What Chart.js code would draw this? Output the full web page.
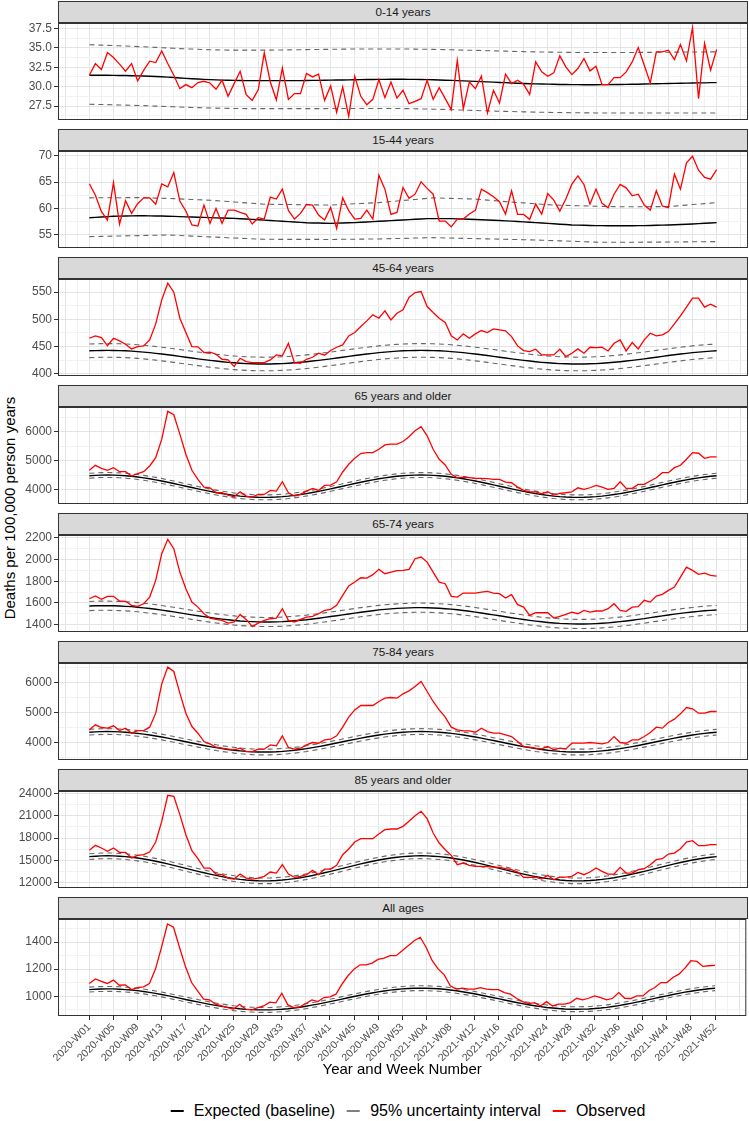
<!DOCTYPE html>
<html>
<head>
<meta charset="utf-8">
<title>Weekly deaths per 100,000 person years</title>
<script src="https://cdn.jsdelivr.net/npm/chart.js@4.4.1/dist/chart.umd.min.js"></script>
<style>
  html, body { margin: 0; padding: 0; background: #fff; }
  body { position: relative; width: 749px; height: 1121px; overflow: hidden; font-family: 'Liberation Sans', Arial, sans-serif; }
  canvas { position: absolute; left: 0; }
  .strip { position: absolute; left: 58px; width: 690px; height: 22px; box-sizing: border-box; background: #d9d9d9; border: 1px solid #333; color: #1a1a1a; font-size: 11.7px; line-height: 20px; text-align: center; }
  #ytitle { position: absolute; left: 9px; top: 508px; transform: translate(-50%, -50%) rotate(-90deg); white-space: nowrap; font-size: 15px; color: #000; }
  #legend { position: absolute; left: 408px; top: 1101px; transform: translateX(-50%); display: flex; align-items: center; white-space: nowrap; font-size: 16px; line-height: 20px; color: #000; }
  #legend .item { display: flex; align-items: center; margin-right: 12px; }
  #legend .item:last-child { margin-right: 0; }
  #legend .key { display: inline-block; width: 13px; height: 2px; margin-right: 10px; }
</style>
</head>
<body>
<div id="ytitle">Deaths per 100,000 person years</div>
<div id="legend"></div>
<script>
const weeks = ['2020-W01','2020-W02','2020-W03','2020-W04','2020-W05','2020-W06','2020-W07','2020-W08','2020-W09','2020-W10',
  '2020-W11','2020-W12','2020-W13','2020-W14','2020-W15','2020-W16','2020-W17','2020-W18','2020-W19','2020-W20',
  '2020-W21','2020-W22','2020-W23','2020-W24','2020-W25','2020-W26','2020-W27','2020-W28','2020-W29','2020-W30',
  '2020-W31','2020-W32','2020-W33','2020-W34','2020-W35','2020-W36','2020-W37','2020-W38','2020-W39','2020-W40',
  '2020-W41','2020-W42','2020-W43','2020-W44','2020-W45','2020-W46','2020-W47','2020-W48','2020-W49','2020-W50',
  '2020-W51','2020-W52','2020-W53','2021-W01','2021-W02','2021-W03','2021-W04','2021-W05','2021-W06','2021-W07',
  '2021-W08','2021-W09','2021-W10','2021-W11','2021-W12','2021-W13','2021-W14','2021-W15','2021-W16','2021-W17',
  '2021-W18','2021-W19','2021-W20','2021-W21','2021-W22','2021-W23','2021-W24','2021-W25','2021-W26','2021-W27',
  '2021-W28','2021-W29','2021-W30','2021-W31','2021-W32','2021-W33','2021-W34','2021-W35','2021-W36','2021-W37',
  '2021-W38','2021-W39','2021-W40','2021-W41','2021-W42','2021-W43','2021-W44','2021-W45','2021-W46','2021-W47',
  '2021-W48','2021-W49','2021-W50','2021-W51','2021-W52'];

// 0-14 years
const obs014 = [31.47,32.97,32.2,34.4,33.75,32.9,32.0,32.97,30.73,32.1,33.28,33.1,34.6,32.97,31.47,29.74,30.26,29.87,30.52,30.69,
  30.47,29.66,30.82,28.75,30.39,31.98,28.97,28.23,29.6,34.35,30.6,28.3,32.4,28.36,29.1,29.1,31.7,31.25,31.6,28.23,
  30.09,26.68,29.96,26.16,31.34,28.75,27.67,28.36,30.9,28.58,30.6,28.53,29.53,27.8,28.1,28.45,30.82,28.36,29.87,28.45,
  27.03,33.4,27.16,30.6,29.74,31.34,26.6,29.53,27.9,31.6,30.39,30.82,30.3,29.0,33.19,31.9,31.34,31.77,33.97,32.54,
  31.55,32.33,33.62,32.03,32.63,30.26,30.26,31.16,31.16,31.9,33.19,35.04,32.76,30.47,34.48,34.48,34.7,33.49,35.43,33.32,
  37.59,28.45,35.56,32.11,34.78];
const exp014 = [31.47,31.47,31.46,31.46,31.45,31.44,31.43,31.41,31.39,31.37,31.34,31.31,31.27,31.22,31.17,31.12,31.07,31.02,30.98,30.94,
  30.9,30.87,30.84,30.82,30.8,30.79,30.78,30.78,30.77,30.77,30.77,30.77,30.77,30.77,30.78,30.78,30.79,30.8,30.81,30.83,
  30.84,30.85,30.86,30.87,30.89,30.9,30.91,30.92,30.93,30.94,30.95,30.95,30.95,30.94,30.93,30.92,30.9,30.88,30.86,30.83,
  30.8,30.77,30.74,30.71,30.68,30.65,30.61,30.58,30.54,30.51,30.47,30.44,30.41,30.38,30.36,30.34,30.32,30.3,30.28,30.27,
  30.26,30.26,30.25,30.25,30.25,30.26,30.26,30.27,30.28,30.29,30.3,30.31,30.33,30.35,30.37,30.39,30.41,30.42,30.44,30.45,
  30.47,30.48,30.49,30.51,30.52];
const hi014 = [35.4,35.38,35.35,35.32,35.29,35.26,35.23,35.2,35.16,35.13,35.1,35.06,35.02,34.98,34.94,34.9,34.87,34.84,34.81,34.78,
  34.76,34.74,34.72,34.71,34.7,34.7,34.7,34.7,34.7,34.71,34.71,34.72,34.73,34.74,34.75,34.76,34.77,34.78,34.79,34.8,
  34.81,34.82,34.83,34.84,34.84,34.85,34.85,34.85,34.85,34.85,34.85,34.85,34.85,34.84,34.83,34.82,34.81,34.8,34.78,34.77,
  34.75,34.73,34.71,34.69,34.67,34.65,34.63,34.61,34.59,34.57,34.55,34.53,34.51,34.49,34.48,34.46,34.45,34.44,34.43,34.42,
  34.41,34.4,34.4,34.39,34.39,34.39,34.39,34.39,34.39,34.4,34.4,34.41,34.41,34.42,34.43,34.43,34.44,34.45,34.45,34.46,
  34.46,34.47,34.47,34.48,34.48];
const lo014 = [27.72,27.71,27.7,27.68,27.66,27.64,27.62,27.6,27.57,27.55,27.52,27.49,27.46,27.43,27.4,27.37,27.34,27.31,27.29,27.27,
  27.25,27.23,27.21,27.2,27.19,27.18,27.17,27.16,27.16,27.16,27.16,27.16,27.16,27.16,27.16,27.16,27.17,27.17,27.17,27.17,
  27.18,27.18,27.18,27.18,27.18,27.19,27.19,27.19,27.19,27.19,27.19,27.18,27.17,27.16,27.15,27.13,27.11,27.09,27.07,27.05,
  27.03,27.0,26.98,26.95,26.93,26.9,26.88,26.85,26.83,26.81,26.79,26.77,26.75,26.73,26.71,26.7,26.68,26.67,26.66,26.65,
  26.64,26.63,26.62,26.62,26.61,26.61,26.61,26.6,26.6,26.6,26.6,26.6,26.6,26.6,26.6,26.6,26.6,26.6,26.6,26.6,
  26.6,26.6,26.6,26.6,26.6];

// 15-44 years
const obs1544 = [64.67,62.5,59.37,57.8,64.9,57.0,61.45,59.05,60.9,62.0,62.0,60.8,64.67,64.1,66.8,61.4,59.5,56.85,56.65,60.63,
  57.16,60.0,57.16,59.68,59.68,59.24,58.86,57.03,58.23,57.98,62.14,61.77,63.66,59.62,57.98,59.05,60.76,60.63,58.74,57.8,
  60.19,56.2,62.0,59.56,57.98,58.1,59.68,57.98,66.3,63.66,58.86,59.24,63.97,61.9,62.7,65.05,63.8,62.7,57.6,57.6,
  56.5,57.98,57.98,58.93,59.62,63.66,63.0,62.2,61.26,58.93,63.34,58.86,58.86,57.92,60.82,58.93,62.84,61.58,59.5,61.77,
  64.6,66.18,64.54,60.82,63.66,60.95,60.13,62.7,64.54,63.9,62.4,62.7,60.63,59.68,63.34,60.44,60.13,66.5,63.66,68.64,
  69.9,67.26,65.87,65.55,67.38];
const exp1544 = [58.23,58.3,58.37,58.43,58.5,58.53,58.55,58.58,58.6,58.59,58.58,58.56,58.55,58.51,58.48,58.44,58.4,58.36,58.33,58.29,
  58.25,58.21,58.18,58.14,58.1,58.04,57.98,57.91,57.85,57.78,57.7,57.63,57.55,57.48,57.41,57.34,57.27,57.24,57.22,57.19,
  57.16,57.2,57.23,57.27,57.3,57.36,57.43,57.49,57.55,57.61,57.68,57.74,57.8,57.86,57.93,57.99,58.05,58.05,58.05,58.05,
  58.05,58.01,57.98,57.94,57.9,57.85,57.8,57.75,57.7,57.64,57.58,57.51,57.45,57.38,57.3,57.23,57.15,57.08,57.0,56.93,
  56.85,56.82,56.79,56.75,56.72,56.72,56.71,56.71,56.7,56.71,56.71,56.72,56.72,56.75,56.79,56.82,56.85,56.9,56.95,57.0,
  57.05,57.11,57.18,57.24,57.3];
const hi1544 = [62.0,62.01,62.01,62.02,62.03,62.03,62.04,62.04,62.05,62.02,61.99,61.96,61.93,61.9,61.85,61.8,61.75,61.7,61.65,61.6,
  61.55,61.47,61.38,61.3,61.22,61.13,61.05,60.97,60.88,60.8,60.78,60.77,60.75,60.74,60.72,60.7,60.69,60.67,60.66,60.64,
  60.63,60.69,60.75,60.81,60.87,60.92,60.98,61.04,61.1,61.2,61.3,61.4,61.5,61.6,61.7,61.8,61.9,62.0,61.97,61.93,
  61.9,61.87,61.83,61.8,61.77,61.67,61.58,61.48,61.39,61.29,61.2,61.12,61.04,60.96,60.87,60.79,60.71,60.63,60.6,60.57,
  60.54,60.51,60.48,60.45,60.42,60.39,60.36,60.33,60.3,60.31,60.31,60.32,60.32,60.33,60.33,60.34,60.35,60.44,60.54,60.63,
  60.73,60.82,60.91,61.01,61.1];
const lo1544 = [54.64,54.66,54.69,54.71,54.74,54.76,54.78,54.81,54.83,54.86,54.88,54.9,54.93,54.95,54.9,54.85,54.8,54.74,54.69,54.64,
  54.59,54.54,54.49,54.44,54.39,54.33,54.28,54.23,54.18,54.13,54.13,54.13,54.12,54.12,54.12,54.12,54.11,54.11,54.11,54.1,
  54.1,54.11,54.13,54.14,54.15,54.16,54.18,54.19,54.2,54.23,54.26,54.28,54.31,54.34,54.37,54.39,54.42,54.45,54.42,54.39,
  54.37,54.34,54.31,54.29,54.26,54.24,54.21,54.18,54.16,54.13,54.1,54.08,54.05,54.03,54.0,53.96,53.92,53.88,53.84,53.8,
  53.76,53.72,53.68,53.64,53.6,53.56,53.56,53.57,53.57,53.58,53.58,53.58,53.59,53.59,53.6,53.6,53.61,53.62,53.63,53.64,
  53.66,53.67,53.68,53.69,53.7];

// 45-64 years
const obs4564 = [465.3,469.6,466.5,451.8,465.3,460.4,454.3,445.7,450,451.2,462.2,491.6,535.7,566.3,549.8,502,475.7,450,449.4,439,
  439.6,435.9,426.7,425.5,413.3,428.6,422.4,420.6,420.6,420.6,425.5,434.7,432.9,456.1,420.6,419.4,426.7,430.4,437.8,434.1,
  442.7,448.8,453.1,469.6,475.7,486.7,497.2,508.2,502,515.5,499,511.2,517.4,540,549.2,551,523.5,512.5,502,494.1,
  469.6,462.2,473.3,465.3,473.3,479.4,475.7,482.5,480.6,478.8,468.4,451.2,442.7,440.8,445.1,434.7,434.7,434.7,445.1,431.6,
  437.8,445.7,437.8,448.8,448.2,448.8,442,456.1,462.2,442,457.3,445.7,462.2,474.5,469.6,471.4,477.6,491.6,506.3,522.3,
  538.8,538.8,522.3,527.8,522.3];
const exp4564 = [442.2,442.6,442.9,443.0,442.9,442.6,442.2,441.6,440.8,439.9,438.8,437.6,436.3,434.9,433.5,432.0,430.5,429.0,427.5,426.1,
  424.7,423.4,422.2,421.1,420.2,419.4,418.8,418.4,418.1,418.0,418.1,418.4,418.8,419.4,420.2,421.1,422.2,423.4,424.7,426.1,
  427.5,429.0,430.5,432.0,433.5,434.9,436.3,437.6,438.8,439.9,440.8,441.6,442.2,442.6,442.9,443.0,442.9,442.6,442.2,441.6,
  440.8,439.9,438.8,437.6,436.3,434.9,433.5,432.0,430.5,429.0,427.5,426.1,424.7,423.4,422.2,421.1,420.2,419.4,418.8,418.4,
  418.1,418.0,418.1,418.4,418.8,419.4,420.2,421.1,422.2,423.4,424.7,426.1,427.5,429.0,430.5,432.0,433.5,434.9,436.3,437.6,
  438.8,439.9,440.8,441.6,442.2];
const hi4564 = [454.7,455.1,455.4,455.5,455.4,455.1,454.7,454.1,453.3,452.4,451.3,450.1,448.8,447.4,446.0,444.5,443.0,441.5,440.0,438.6,
  437.2,435.9,434.7,433.6,432.7,431.9,431.3,430.9,430.6,430.5,430.6,430.9,431.3,431.9,432.7,433.6,434.7,435.9,437.2,438.6,
  440.0,441.5,443.0,444.5,446.0,447.4,448.8,450.1,451.3,452.4,453.3,454.1,454.7,455.1,455.4,455.5,455.4,455.1,454.7,454.1,
  453.3,452.4,451.3,450.1,448.8,447.4,446.0,444.5,443.0,441.5,440.0,438.6,437.2,435.9,434.7,433.6,432.7,431.9,431.3,430.9,
  430.6,430.5,430.6,430.9,431.3,431.9,432.7,433.6,434.7,435.9,437.2,438.6,440.0,441.5,443.0,444.5,446.0,447.4,448.8,450.1,
  451.3,452.4,453.3,454.1,454.7];
const lo4564 = [429.7,430.1,430.4,430.5,430.4,430.1,429.7,429.1,428.3,427.4,426.3,425.1,423.8,422.4,421.0,419.5,418.0,416.5,415.0,413.6,
  412.2,410.9,409.7,408.6,407.7,406.9,406.3,405.9,405.6,405.5,405.6,405.9,406.3,406.9,407.7,408.6,409.7,410.9,412.2,413.6,
  415.0,416.5,418.0,419.5,421.0,422.4,423.8,425.1,426.3,427.4,428.3,429.1,429.7,430.1,430.4,430.5,430.4,430.1,429.7,429.1,
  428.3,427.4,426.3,425.1,423.8,422.4,421.0,419.5,418.0,416.5,415.0,413.6,412.2,410.9,409.7,408.6,407.7,406.9,406.3,405.9,
  405.6,405.5,405.6,405.9,406.3,406.9,407.7,408.6,409.7,410.9,412.2,413.6,415.0,416.5,418.0,419.5,421.0,422.4,423.8,425.1,
  426.3,427.4,428.3,429.1,429.7];

// 65 years and older
const obs65p = [4663,4837,4733,4663,4756,4616,4616,4465,4546,4616,4814,5105,5744,6710,6593,5919,5221,4663,4349,4081,
  4058,3884,3884,3802,3744,3918,3767,3732,3826,3826,3965,3942,4267,3884,3767,3826,3942,4035,3965,4139,
  4151,4267,4605,4872,5081,5244,5279,5279,5395,5547,5570,5570,5663,5826,6035,6175,5861,5395,5047,4849,
  4523,4407,4430,4407,4384,4384,4372,4349,4349,4256,4232,4081,3965,3918,3918,3849,3918,3802,3860,3884,
  3918,4058,4000,4058,4139,4081,4000,4035,4267,4035,4035,4174,4174,4291,4407,4581,4581,4756,4837,5047,
  5279,5256,5081,5128,5128];
const exp65p = [4475,4489,4497,4500,4497,4489,4475,4456,4431,4402,4369,4332,4292,4250,4205,4159,4112,4065,4019,3974,
  3932,3892,3855,3822,3793,3768,3749,3735,3727,3724,3727,3735,3749,3768,3793,3822,3855,3892,3932,3974,
  4019,4065,4112,4159,4205,4250,4292,4332,4369,4402,4431,4456,4475,4489,4497,4500,4497,4489,4475,4456,
  4431,4402,4369,4332,4292,4250,4205,4159,4112,4065,4019,3974,3932,3892,3855,3822,3793,3768,3749,3735,
  3727,3724,3727,3735,3749,3768,3793,3822,3855,3892,3932,3974,4019,4065,4112,4159,4205,4250,4292,4332,
  4369,4402,4431,4456,4475];
const hi65p = [4560,4574,4582,4585,4582,4574,4560,4541,4516,4487,4454,4417,4377,4335,4290,4244,4197,4150,4104,4059,
  4017,3977,3940,3907,3878,3853,3834,3820,3812,3809,3812,3820,3834,3853,3878,3907,3940,3977,4017,4059,
  4104,4150,4197,4244,4290,4335,4377,4417,4454,4487,4516,4541,4560,4574,4582,4585,4582,4574,4560,4541,
  4516,4487,4454,4417,4377,4335,4290,4244,4197,4150,4104,4059,4017,3977,3940,3907,3878,3853,3834,3820,
  3812,3809,3812,3820,3834,3853,3878,3907,3940,3977,4017,4059,4104,4150,4197,4244,4290,4335,4377,4417,
  4454,4487,4516,4541,4560];
const lo65p = [4390,4404,4412,4415,4412,4404,4390,4371,4346,4317,4284,4247,4207,4165,4120,4074,4027,3980,3934,3889,
  3847,3807,3770,3737,3708,3683,3664,3650,3642,3639,3642,3650,3664,3683,3708,3737,3770,3807,3847,3889,
  3934,3980,4027,4074,4120,4165,4207,4247,4284,4317,4346,4371,4390,4404,4412,4415,4412,4404,4390,4371,
  4346,4317,4284,4247,4207,4165,4120,4074,4027,3980,3934,3889,3847,3807,3770,3737,3708,3683,3664,3650,
  3642,3639,3642,3650,3664,3683,3708,3737,3770,3807,3847,3889,3934,3980,4027,4074,4120,4165,4207,4247,
  4284,4317,4346,4371,4390];

// 65-74 years
const obs6574 = [1639,1664,1633,1661,1661,1618,1615,1578,1569,1593,1654,1808,2053,2185,2099,1884,1731,1608,1562,1501,
  1461,1449,1440,1415,1425,1495,1449,1385,1415,1440,1455,1461,1547,1440,1425,1449,1470,1477,1501,1532,
  1541,1578,1670,1756,1792,1832,1829,1860,1909,1869,1884,1897,1900,1909,2007,2022,1976,1884,1792,1777,
  1661,1654,1691,1691,1691,1700,1707,1691,1685,1645,1676,1584,1562,1486,1510,1510,1510,1461,1477,1495,
  1516,1501,1532,1516,1526,1526,1547,1593,1532,1523,1562,1566,1624,1608,1664,1679,1716,1746,1838,1930,
  1900,1863,1875,1854,1847];
const exp6574 = [1572,1574,1575,1575,1574,1572,1569,1566,1561,1555,1549,1542,1534,1526,1518,1509,1500,1491,1482,1474,
  1466,1458,1451,1445,1439,1434,1431,1428,1426,1425,1425,1426,1428,1432,1436,1441,1446,1453,1460,1467,
  1475,1483,1491,1499,1507,1515,1522,1529,1536,1541,1546,1550,1553,1555,1557,1557,1556,1554,1551,1547,
  1543,1537,1531,1524,1516,1508,1499,1491,1482,1473,1464,1456,1448,1440,1433,1427,1421,1416,1412,1410,
  1408,1407,1407,1408,1410,1413,1417,1422,1428,1434,1441,1449,1456,1465,1473,1481,1489,1497,1504,1511,
  1517,1523,1528,1532,1535];
const hi6574 = [1614,1616,1617,1617,1616,1614,1611,1608,1603,1597,1591,1584,1576,1568,1560,1551,1542,1533,1524,1516,
  1508,1500,1493,1487,1481,1476,1473,1470,1468,1467,1467,1468,1470,1474,1478,1483,1488,1495,1502,1509,
  1517,1525,1533,1541,1549,1557,1564,1571,1578,1583,1588,1592,1595,1597,1599,1599,1598,1596,1593,1589,
  1585,1579,1573,1566,1558,1550,1541,1533,1524,1515,1506,1498,1490,1482,1475,1469,1463,1458,1454,1452,
  1450,1449,1449,1450,1452,1455,1459,1464,1470,1476,1483,1491,1498,1507,1515,1523,1531,1539,1546,1553,
  1559,1565,1570,1574,1577];
const lo6574 = [1530,1532,1533,1533,1532,1530,1527,1524,1519,1513,1507,1500,1492,1484,1476,1467,1458,1449,1440,1432,
  1424,1416,1409,1403,1397,1392,1389,1386,1384,1383,1383,1384,1386,1390,1394,1399,1404,1411,1418,1425,
  1433,1441,1449,1457,1465,1473,1480,1487,1494,1499,1504,1508,1511,1513,1515,1515,1514,1512,1509,1505,
  1501,1495,1489,1482,1474,1466,1457,1449,1440,1431,1422,1414,1406,1398,1391,1385,1379,1374,1370,1368,
  1366,1365,1365,1366,1368,1371,1375,1380,1386,1392,1399,1407,1414,1423,1431,1439,1447,1455,1462,1469,
  1475,1481,1486,1490,1493];

// 75-84 years
const obs7584 = [4425,4591,4503,4481,4558,4403,4481,4315,4403,4403,4514,4978,5950,6503,6359,5641,4978,4536,4315,4039,
  3961,3851,3818,3785,3762,3818,3707,3707,3785,3785,3928,3895,4227,3840,3785,3818,3928,4006,3983,4094,
  4116,4227,4514,4845,5088,5232,5232,5232,5365,5475,5497,5475,5619,5718,5862,6028,5696,5365,5088,4845,
  4514,4425,4392,4392,4348,4481,4370,4315,4315,4260,4204,4039,3873,3851,3818,3796,3873,3762,3818,3796,
  3983,3983,3983,4006,3983,3961,4006,4204,4006,3983,4094,4094,4204,4337,4514,4481,4669,4779,4956,5166,
  5122,4978,4978,5033,5033];
const exp7584 = [4348,4360,4368,4370,4368,4360,4348,4331,4310,4285,4256,4223,4188,4151,4111,4071,4030,3989,3949,3909,
  3872,3837,3804,3776,3750,3729,3712,3700,3693,3690,3693,3700,3712,3729,3750,3776,3804,3837,3872,3909,
  3949,3989,4030,4071,4111,4151,4188,4223,4256,4285,4310,4331,4348,4360,4368,4370,4368,4360,4348,4331,
  4310,4285,4256,4223,4188,4151,4111,4071,4030,3989,3949,3909,3872,3837,3804,3776,3750,3729,3712,3700,
  3693,3690,3693,3700,3712,3729,3750,3776,3804,3837,3872,3909,3949,3989,4030,4071,4111,4151,4188,4223,
  4256,4285,4310,4331,4348];
const hi7584 = [4443,4455,4463,4465,4463,4455,4443,4426,4405,4380,4351,4318,4283,4246,4206,4166,4125,4084,4044,4004,
  3967,3932,3899,3871,3845,3824,3807,3795,3788,3785,3788,3795,3807,3824,3845,3871,3899,3932,3967,4004,
  4044,4084,4125,4166,4206,4246,4283,4318,4351,4380,4405,4426,4443,4455,4463,4465,4463,4455,4443,4426,
  4405,4380,4351,4318,4283,4246,4206,4166,4125,4084,4044,4004,3967,3932,3899,3871,3845,3824,3807,3795,
  3788,3785,3788,3795,3807,3824,3845,3871,3899,3932,3967,4004,4044,4084,4125,4166,4206,4246,4283,4318,
  4351,4380,4405,4426,4443];
const lo7584 = [4253,4265,4273,4275,4273,4265,4253,4236,4215,4190,4161,4128,4093,4056,4016,3976,3935,3894,3854,3814,
  3777,3742,3709,3681,3655,3634,3617,3605,3598,3595,3598,3605,3617,3634,3655,3681,3709,3742,3777,3814,
  3854,3894,3935,3976,4016,4056,4093,4128,4161,4190,4215,4236,4253,4265,4273,4275,4273,4265,4253,4236,
  4215,4190,4161,4128,4093,4056,4016,3976,3935,3894,3854,3814,3777,3742,3709,3681,3655,3634,3617,3605,
  3598,3595,3598,3605,3617,3634,3655,3681,3709,3742,3777,3814,3854,3894,3935,3976,4016,4056,4093,4128,
  4161,4190,4215,4236,4253];

// 85 years and older
const obs85p = [16343,17015,16657,16209,16657,16075,16075,15314,15672,15762,16120,17463,20240,23732,23598,21135,18448,16299,15224,13970,
  13970,13164,13075,12627,12493,13164,12627,12493,12627,12851,13433,13299,14418,13164,12717,12851,13075,13657,13075,13836,
  13836,14329,15762,16523,17463,17911,17911,17911,18538,19120,19210,19210,19568,20240,21001,21583,20598,18672,17329,16433,
  15672,14418,14642,14329,14194,14194,14149,14105,14060,13881,13746,13433,12717,12717,12761,12493,12985,12403,12761,12761,
  12851,13388,13075,13433,13970,13523,13164,13164,14060,13299,13299,13746,13881,14418,15090,15224,15851,15985,16568,17463,
  17642,16971,16971,17105,17105];
const exp85p = [15501,15561,15598,15610,15598,15561,15501,15418,15313,15188,15044,14884,14711,14526,14332,14132,13930,13728,13528,13334,
  13149,12976,12816,12672,12547,12442,12359,12299,12262,12250,12262,12299,12359,12442,12547,12672,12816,12976,13149,13334,
  13528,13728,13930,14132,14332,14526,14711,14884,15044,15188,15313,15418,15501,15561,15598,15610,15598,15561,15501,15418,
  15313,15188,15044,14884,14711,14526,14332,14132,13930,13728,13528,13334,13149,12976,12816,12672,12547,12442,12359,12299,
  12262,12250,12262,12299,12359,12442,12547,12672,12816,12976,13149,13334,13528,13728,13930,14132,14332,14526,14711,14884,
  15044,15188,15313,15418,15501];
const hi85p = [15881,15941,15978,15990,15978,15941,15881,15798,15693,15568,15424,15264,15091,14906,14712,14512,14310,14108,13908,13714,
  13529,13356,13196,13052,12927,12822,12739,12679,12642,12630,12642,12679,12739,12822,12927,13052,13196,13356,13529,13714,
  13908,14108,14310,14512,14712,14906,15091,15264,15424,15568,15693,15798,15881,15941,15978,15990,15978,15941,15881,15798,
  15693,15568,15424,15264,15091,14906,14712,14512,14310,14108,13908,13714,13529,13356,13196,13052,12927,12822,12739,12679,
  12642,12630,12642,12679,12739,12822,12927,13052,13196,13356,13529,13714,13908,14108,14310,14512,14712,14906,15091,15264,
  15424,15568,15693,15798,15881];
const lo85p = [15121,15181,15218,15230,15218,15181,15121,15038,14933,14808,14664,14504,14331,14146,13952,13752,13550,13348,13148,12954,
  12769,12596,12436,12292,12167,12062,11979,11919,11882,11870,11882,11919,11979,12062,12167,12292,12436,12596,12769,12954,
  13148,13348,13550,13752,13952,14146,14331,14504,14664,14808,14933,15038,15121,15181,15218,15230,15218,15181,15121,15038,
  14933,14808,14664,14504,14331,14146,13952,13752,13550,13348,13148,12954,12769,12596,12436,12292,12167,12062,11979,11919,
  11882,11870,11882,11919,11979,12062,12167,12292,12436,12596,12769,12954,13148,13348,13550,13752,13952,14146,14331,14504,
  14664,14808,14933,15038,15121];

// All ages
const obsAll = [1094,1128,1109,1094,1119,1081,1084,1049,1064,1069,1094,1200,1360,1533,1509,1360,1217,1101,1040,978,
  973,941,928,916,906,941,904,899,916,928,956,951,1022,936,916,921,946,973,960,990,
  995,1015,1089,1151,1200,1232,1232,1244,1272,1281,1299,1299,1336,1373,1410,1435,1360,1262,1200,1158,
  1077,1052,1059,1052,1052,1064,1052,1049,1049,1027,1015,985,960,946,953,928,960,928,941,941,
  953,985,973,985,1002,990,973,985,1027,985,983,1002,1002,1040,1064,1101,1101,1138,1163,1207,
  1262,1257,1220,1225,1227];
const expAll = [1049,1052,1053,1054,1054,1052,1049,1046,1041,1035,1028,1021,1013,1004,995,986,976,967,958,949,
  940,932,925,918,912,907,903,901,899,899,899,901,904,908,913,919,926,934,942,951,
  960,969,979,989,998,1007,1016,1024,1032,1039,1045,1050,1054,1057,1059,1059,1059,1057,1055,1051,
  1046,1040,1033,1026,1018,1009,1000,991,982,972,963,954,945,937,930,923,917,913,909,906,
  904,904,905,906,909,913,918,924,931,939,947,956,965,975,984,994,1003,1013,1021,1030,
  1037,1044,1050,1055,1059];
const hiAll = [1067,1070,1071,1072,1072,1070,1067,1064,1059,1053,1046,1039,1031,1022,1013,1004,994,985,976,967,
  958,950,943,936,930,925,921,919,917,917,917,919,922,926,931,937,944,952,960,969,
  978,987,997,1007,1016,1025,1034,1042,1050,1057,1063,1068,1072,1075,1077,1077,1077,1075,1073,1069,
  1064,1058,1051,1044,1036,1027,1018,1009,1000,990,981,972,963,955,948,941,935,931,927,924,
  922,922,923,924,927,931,936,942,949,957,965,974,983,993,1002,1012,1021,1031,1039,1048,
  1055,1062,1068,1073,1077];
const loAll = [1031,1034,1035,1036,1036,1034,1031,1028,1023,1017,1010,1003,995,986,977,968,958,949,940,931,
  922,914,907,900,894,889,885,883,881,881,881,883,886,890,895,901,908,916,924,933,
  942,951,961,971,980,989,998,1006,1014,1021,1027,1032,1036,1039,1041,1041,1041,1039,1037,1033,
  1028,1022,1015,1008,1000,991,982,973,964,954,945,936,927,919,912,905,899,895,891,888,
  886,886,887,888,891,895,900,906,913,921,929,938,947,957,966,976,985,995,1003,1012,
  1019,1026,1032,1037,1041];

// y tick values and labels per panel
const yTicks014 = [27.5, 30, 32.5, 35, 37.5], yLabels014 = ['27.5', '30.0', '32.5', '35.0', '37.5'];
const yTicks1544 = [55, 60, 65, 70], yLabels1544 = ['55', '60', '65', '70'];
const yTicks4564 = [400, 450, 500, 550], yLabels4564 = ['400', '450', '500', '550'];
const yTicks65p = [4000, 5000, 6000], yLabels65p = ['4000', '5000', '6000'];
const yTicks6574 = [1400, 1600, 1800, 2000, 2200], yLabels6574 = ['1400', '1600', '1800', '2000', '2200'];
const yTicks7584 = [4000, 5000, 6000], yLabels7584 = ['4000', '5000', '6000'];
const yTicks85p = [12000, 15000, 18000, 21000, 24000], yLabels85p = ['12000', '15000', '18000', '21000', '24000'];
const yTicksAll = [1000, 1200, 1400], yLabelsAll = ['1000', '1200', '1400'];

const panels = [
  { title: '0-14 years', obs: obs014, exp: exp014, hi: hi014, lo: lo014, min: 25.7, max: 38.2, ticks: yTicks014, labels: yLabels014 },
  { title: '15-44 years', obs: obs1544, exp: exp1544, hi: hi1544, lo: lo1544, min: 52.48, max: 70.9, ticks: yTicks1544, labels: yLabels1544 },
  { title: '45-64 years', obs: obs4564, exp: exp4564, hi: hi4564, lo: lo4564, min: 396, max: 574, ticks: yTicks4564, labels: yLabels4564 },
  { title: '65 years and older', obs: obs65p, exp: exp65p, hi: hi65p, lo: lo65p, min: 3494, max: 6861, ticks: yTicks65p, labels: yLabels65p },
  { title: '65-74 years', obs: obs6574, exp: exp6574, hi: hi6574, lo: lo6574, min: 1333, max: 2225, ticks: yTicks6574, labels: yLabels6574 },
  { title: '75-84 years', obs: obs7584, exp: exp7584, hi: hi7584, lo: lo7584, min: 3427, max: 6640, ticks: yTicks7584, labels: yLabels7584 },
  { title: '85 years and older', obs: obs85p, exp: exp85p, hi: hi85p, lo: lo85p, min: 11290, max: 24310, ticks: yTicks85p, labels: yLabels85p },
  { title: 'All ages', obs: obsAll, exp: expAll, hi: hiAll, lo: loAll, min: 854, max: 1570, ticks: yTicksAll, labels: yLabelsAll }
];

const legendItems = [
  { label: 'Expected (baseline)', color: '#000000' },
  { label: '95% uncertainty interval', color: '#7f7f7f' },
  { label: 'Observed', color: '#ff0000' }
];

Chart.defaults.font.family = "'Liberation Sans', Arial, sans-serif";
Chart.defaults.color = '#4d4d4d';

const GRID_MAJOR = '#e4e4e4';
const GRID_MINOR = '#f2f2f2';

// weekly grid every 2 weeks, labelled every 4
const xGrid = [];
for (let v = -4; v <= 108; v += 2) xGrid.push(v);

function yGrid(p) {
  const half = (p.ticks[1] - p.ticks[0]) / 2, out = [];
  for (let v = p.ticks[0] - half; v <= p.max; v += half) {
    if (v >= p.min) out.push(+v.toFixed(4));
  }
  return out;
}

const toXY = arr => arr.map((v, i) => ({ x: i, y: v }));

const panelBorder = {
  id: 'panelBorder',
  afterDraw(chart) {
    const { ctx, chartArea: a } = chart;
    ctx.save();
    ctx.strokeStyle = '#333333';
    ctx.lineWidth = 1;
    ctx.strokeRect(a.left + 0.5, a.top + 0.5, a.right - a.left - 1, a.bottom - a.top - 1);
    ctx.restore();
  }
};

panels.forEach((p, k) => {
  const top = 128 * k;
  const last = k === panels.length - 1;

  const strip = document.createElement('div');
  strip.className = 'strip';
  strip.style.top = (top + 1) + 'px';
  strip.textContent = p.title;
  document.body.appendChild(strip);

  const h = last ? 172 : 117;
  const cv = document.createElement('canvas');
  cv.width = 749; cv.height = h;
  cv.style.width = '749px'; cv.style.height = h + 'px';
  cv.style.top = (top + 13) + 'px';
  document.body.appendChild(cv);

  new Chart(cv, {
    type: 'line',
    data: {
      datasets: [
        { label: 'Observed', data: toXY(p.obs), borderColor: '#ff0000', borderWidth: 1.3 },
        { label: 'Expected (baseline)', data: toXY(p.exp), borderColor: '#000000', borderWidth: 1.4 },
        { label: '95% uncertainty interval', data: toXY(p.hi), borderColor: '#666666', borderWidth: 1.1, borderDash: [5, 4] },
        { label: '95% uncertainty interval', data: toXY(p.lo), borderColor: '#666666', borderWidth: 1.1, borderDash: [5, 4] }
      ]
    },
    options: {
      responsive: false,
      animation: false,
      devicePixelRatio: 1,
      events: [],
      layout: { padding: { top: 10, right: 1, bottom: last ? 0 : 10, left: 0 } },
      elements: { point: { radius: 0 }, line: { tension: 0, fill: false } },
      plugins: { legend: { display: false }, tooltip: { enabled: false } },
      scales: {
        x: {
          type: 'linear',
          min: -5.2,
          max: 109.2,
          afterBuildTicks: s => { s.ticks = xGrid.map(v => ({ value: v })); },
          afterFit: s => { s.height = last ? 65 : 0; },
          border: { display: false },
          grid: {
            color: c => (c.tick && c.tick.value % 4 === 0) ? GRID_MAJOR : GRID_MINOR,
            lineWidth: 1,
            drawTicks: last,
            tickLength: 4,
            tickWidth: 1,
            tickColor: c => (c.tick && c.tick.value % 4 === 0 && c.tick.value >= 0 && c.tick.value <= 104) ? '#333333' : 'rgba(0,0,0,0)'
          },
          ticks: {
            display: last,
            autoSkip: false,
            minRotation: 45,
            maxRotation: 45,
            padding: 1,
            color: '#4d4d4d',
            font: { size: 10.5 },
            callback: v => (v >= 0 && v <= 104 && v % 4 === 0) ? weeks[v] : ''
          },
          title: {
            display: last,
            text: 'Year and Week Number',
            color: '#000000',
            font: { size: 15 },
            padding: { top: 0, bottom: 2 }
          }
        },
        y: {
          min: p.min,
          max: p.max,
          afterBuildTicks: s => { s.ticks = yGrid(p).map(v => ({ value: v })); },
          afterFit: s => { s.width = 58; },
          border: { display: false },
          grid: {
            color: c => (c.tick && p.ticks.includes(c.tick.value)) ? GRID_MAJOR : GRID_MINOR,
            lineWidth: 1,
            tickLength: 4,
            tickWidth: 1,
            tickColor: c => (c.tick && p.ticks.includes(c.tick.value)) ? '#333333' : 'rgba(0,0,0,0)'
          },
          ticks: {
            autoSkip: false,
            padding: 2,
            color: '#4d4d4d',
            font: { size: 12 },
            callback: v => { const j = p.ticks.indexOf(v); return j < 0 ? '' : p.labels[j]; }
          }
        }
      }
    },
    plugins: [panelBorder]
  });
});

const legend = document.getElementById('legend');
legendItems.forEach(it => {
  const item = document.createElement('div');
  item.className = 'item';
  const key = document.createElement('span');
  key.className = 'key';
  key.style.background = it.color;
  const txt = document.createElement('span');
  txt.textContent = it.label;
  item.appendChild(key);
  item.appendChild(txt);
  legend.appendChild(item);
});
</script>
</body>
</html>
